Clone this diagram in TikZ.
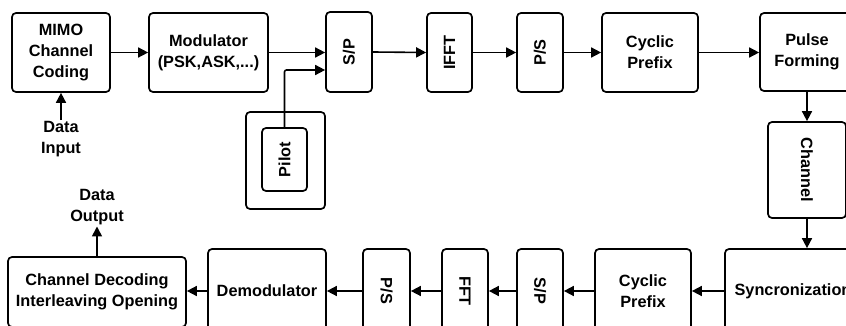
\documentclass[tikz,border=0pt]{standalone}
\usepackage{fontspec}
\setmainfont{Liberation Sans}
\usetikzlibrary{arrows.meta}
\begin{document}
\begin{tikzpicture}[x=1pt,y=-1pt,
  every node/.style={font=\fontsize{16.3pt}{21pt}\selectfont\bfseries, align=center, inner sep=1pt},
  blk/.style={draw, line width=1.7pt, rounded corners=4pt},
  arr/.style={line width=1.6pt, -{Triangle[length=10pt,width=10pt]}},
  ln/.style={line width=1.6pt}]
\useasboundingbox (0,0) rectangle (846,326);
\clip (0,0) rectangle (846,326);
\fill[white] (0,0) rectangle (846,326);
% top row
\node[blk, minimum width=98, minimum height=79] (mimo) at (61,52.5) {MIMO\\Channel\\Coding};
\node[blk, minimum width=119, minimum height=79] (mod) at (208.5,52.5) {Modulator\\(PSK,ASK,...)};
\node[blk, minimum width=46, minimum height=80] (sp1) at (349,52) {\rotatebox{90}{S/P}};
\node[blk, minimum width=45, minimum height=79] (ifft) at (449.5,52.5) {\rotatebox{90}{IFFT}};
\node[blk, minimum width=46, minimum height=79] (ps1) at (540,52.5) {\rotatebox{90}{P/S}};
\node[blk, minimum width=96, minimum height=79] (cp1) at (650,52.5) {Cyclic\\Prefix};
\node[blk, minimum width=94, minimum height=78] (pf) at (807,52) {Pulse\\Forming};
% channel
\node[blk, minimum width=78, minimum height=96] (ch) at (807,170) {\rotatebox{-90}{Channel}};
% pilot
\node[blk, minimum width=79, minimum height=97] (pout) at (285.5,160.5) {};
\node[blk, minimum width=45, minimum height=63] (pilot) at (284.5,159.5) {\rotatebox{90}{Pilot}};
% bottom row
\node[blk, minimum width=136, minimum height=84] (sync) at (793,291) {Syncronization};
\node[blk, minimum width=96, minimum height=84] (cp2) at (643,291) {Cyclic\\Prefix};
\node[blk, minimum width=46, minimum height=84] (sp2) at (540,291) {\rotatebox{-90}{S/P}};
\node[blk, minimum width=46, minimum height=84] (fft) at (465,291) {\rotatebox{-90}{FFT}};
\node[blk, minimum width=47, minimum height=84] (ps2) at (386.5,291) {\rotatebox{-90}{P/S}};
\node[blk, minimum width=118, minimum height=84] (demod) at (267,291) {Demodulator};
\node[blk, minimum width=178, minimum height=70] (chdec) at (97,292) {Channel Decoding\\Interleaving Opening};
% texts
\node (din) at (61,139) {Data\\Input};
\node (dout) at (97,207.5) {Data\\Output};
% connectors
\draw[arr] (mimo.east) -- (mod.west);
\draw[arr] (mod.east) -- (mod.east -| sp1.west);
\draw[arr, rounded corners=2pt] (pilot.north) |- ([yshift=-18pt]sp1.west);
\draw[arr] (sp1.east) -- (ifft.west);
\draw[arr] (ifft.east) -- (ps1.west);
\draw[arr] (ps1.east) -- (cp1.west);
\draw[arr] (cp1.east) -- (cp1.east -| pf.west);
\draw[arr] (pf.south) -- (ch.north);
\draw[arr] (ch.south) -- (ch.south |- sync.north);
\draw[arr] (sync.west) -- (cp2.east);
\draw[arr] (cp2.west) -- (sp2.east);
\draw[arr] (sp2.west) -- (fft.east);
\draw[arr] (fft.west) -- (ps2.east);
\draw[arr] (ps2.west) -- (demod.east);
\draw[arr] (demod.west) -- (demod.west -| chdec.east);
\draw[arr] (din.north) -- (din.north |- mimo.south);
\draw[arr] (chdec.north) -- (dout.south);
\end{tikzpicture}
\end{document}
